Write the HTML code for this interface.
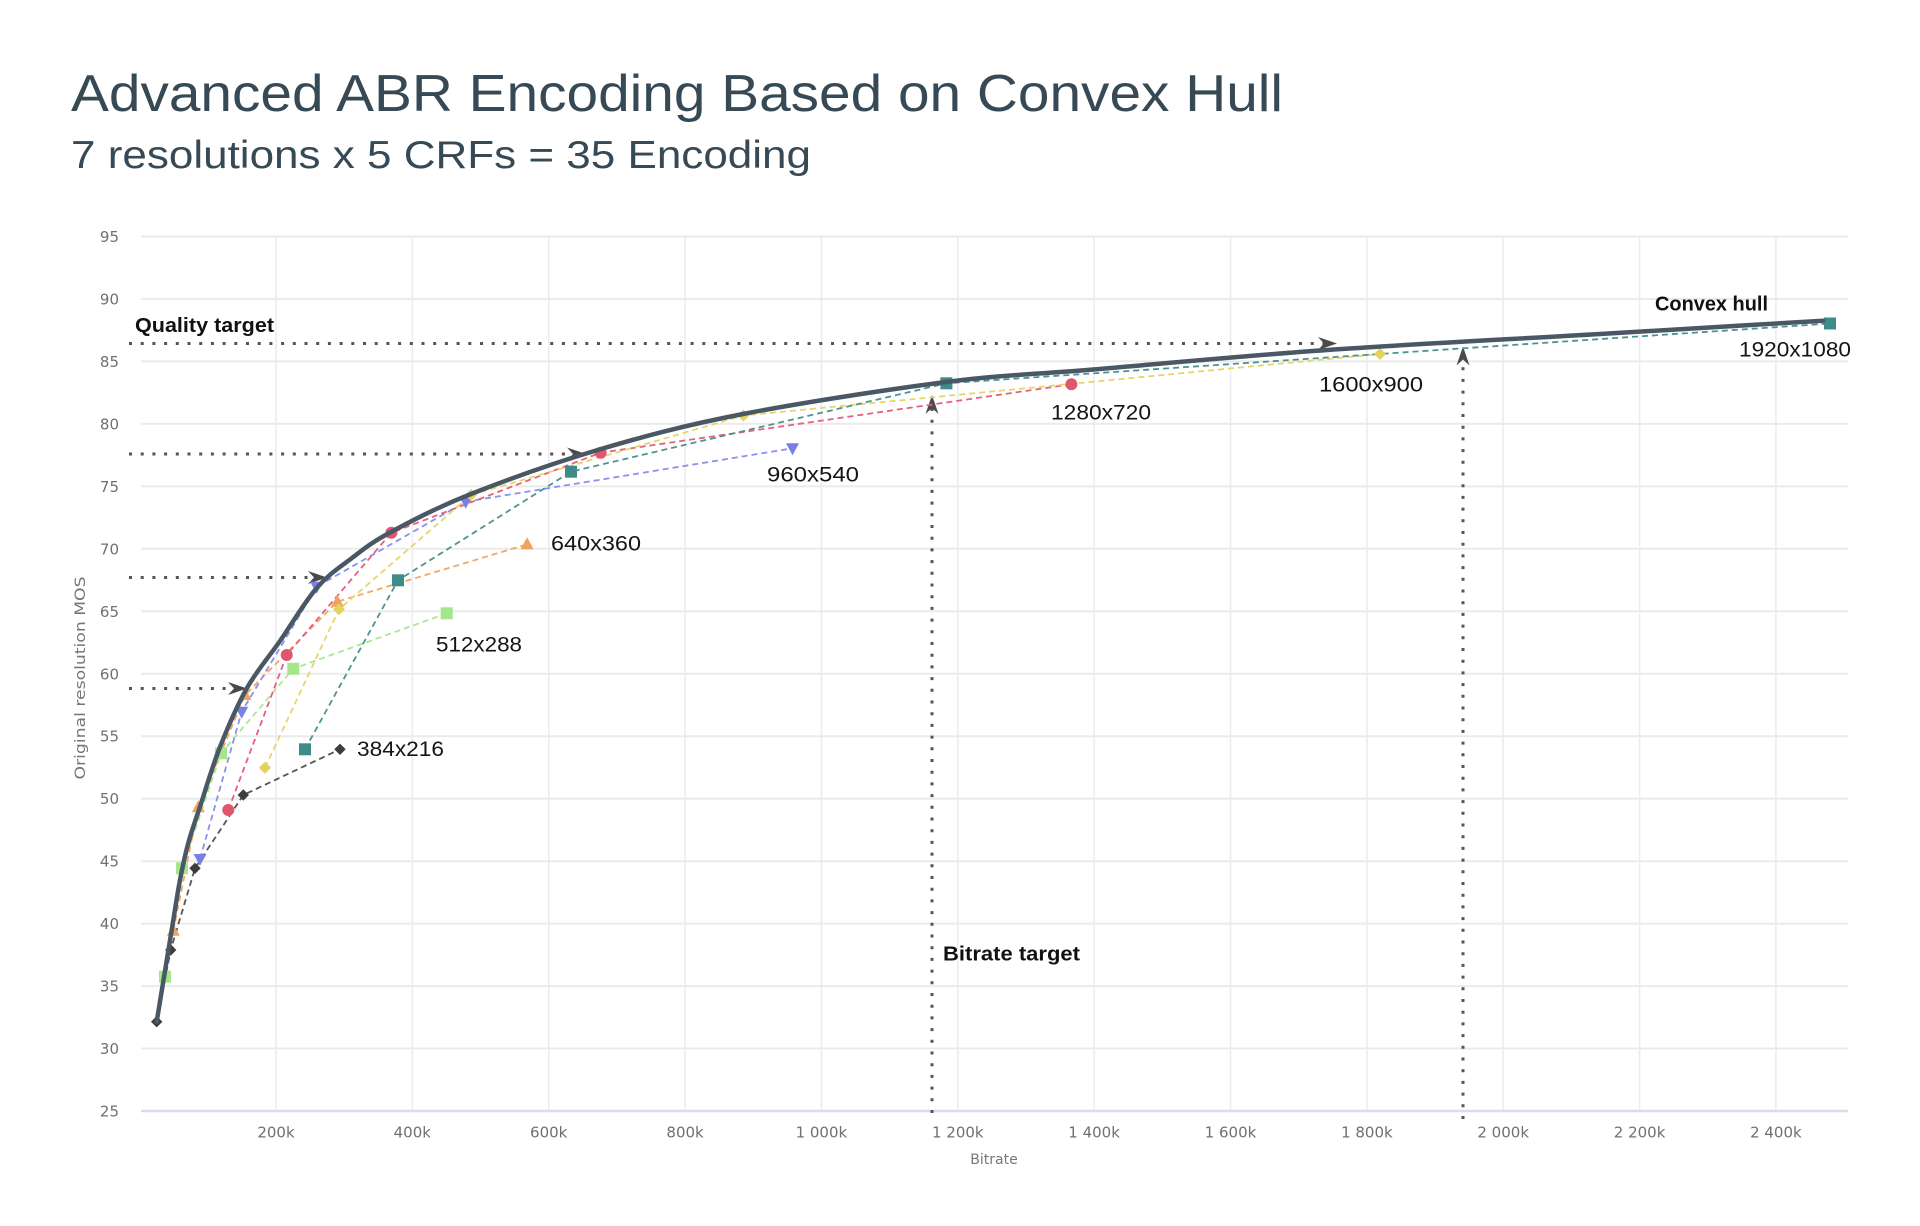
<!DOCTYPE html>
<html>
<head>
<meta charset="utf-8">
<style>
html,body{margin:0;padding:0;background:#fff;}
svg{display:block;}
.tick{font-family:"DejaVu Sans","Liberation Sans",sans-serif;font-size:15px;fill:#707070;}
.ax{font-family:"DejaVu Sans","Liberation Sans",sans-serif;font-size:14px;fill:#777;}
.lbl{font-family:"Liberation Sans",sans-serif;font-size:21px;fill:#151515;}
.bold{font-family:"Liberation Sans",sans-serif;font-size:20px;font-weight:bold;fill:#111;}
</style>
</head>
<body>
<svg width="1920" height="1226" viewBox="0 0 1920 1226" xmlns="http://www.w3.org/2000/svg">
<rect width="1920" height="1226" fill="#fff"/>

<!-- Titles -->
<text x="71" y="111" font-family="Liberation Sans, sans-serif" font-size="52" fill="#364955" textLength="1212" lengthAdjust="spacingAndGlyphs">Advanced ABR Encoding Based on Convex Hull</text>
<text x="71" y="168" font-family="Liberation Sans, sans-serif" font-size="39" fill="#364955" textLength="740" lengthAdjust="spacingAndGlyphs">7 resolutions x 5 CRFs = 35 Encoding</text>

<!-- Vertical gridlines -->
<g stroke="#ececf0" stroke-width="1.5">
<line x1="276" y1="236.5" x2="276" y2="1111"/>
<line x1="412.3" y1="236.5" x2="412.3" y2="1111"/>
<line x1="548.7" y1="236.5" x2="548.7" y2="1111"/>
<line x1="685.1" y1="236.5" x2="685.1" y2="1111"/>
<line x1="821.4" y1="236.5" x2="821.4" y2="1111"/>
<line x1="957.8" y1="236.5" x2="957.8" y2="1111"/>
<line x1="1094.1" y1="236.5" x2="1094.1" y2="1111"/>
<line x1="1230.5" y1="236.5" x2="1230.5" y2="1111"/>
<line x1="1366.9" y1="236.5" x2="1366.9" y2="1111"/>
<line x1="1503.2" y1="236.5" x2="1503.2" y2="1111"/>
<line x1="1639.6" y1="236.5" x2="1639.6" y2="1111"/>
<line x1="1775.9" y1="236.5" x2="1775.9" y2="1111"/>
</g>
<!-- Horizontal gridlines -->
<g stroke="#ebebeb" stroke-width="2">
<line x1="141" y1="236.5" x2="1848" y2="236.5"/>
<line x1="141" y1="299" x2="1848" y2="299"/>
<line x1="141" y1="361.4" x2="1848" y2="361.4"/>
<line x1="141" y1="423.9" x2="1848" y2="423.9"/>
<line x1="141" y1="486.4" x2="1848" y2="486.4"/>
<line x1="141" y1="548.8" x2="1848" y2="548.8"/>
<line x1="141" y1="611.3" x2="1848" y2="611.3"/>
<line x1="141" y1="673.8" x2="1848" y2="673.8"/>
<line x1="141" y1="736.2" x2="1848" y2="736.2"/>
<line x1="141" y1="798.7" x2="1848" y2="798.7"/>
<line x1="141" y1="861.2" x2="1848" y2="861.2"/>
<line x1="141" y1="923.6" x2="1848" y2="923.6"/>
<line x1="141" y1="986.1" x2="1848" y2="986.1"/>
<line x1="141" y1="1048.5" x2="1848" y2="1048.5"/>
</g>
<line x1="141" y1="1111" x2="1848" y2="1111" stroke="#d6ddef" stroke-width="2.5"/>

<!-- Y tick labels -->
<g class="tick" text-anchor="end">
<text x="119" y="242">95</text>
<text x="119" y="304.5">90</text>
<text x="119" y="367">85</text>
<text x="119" y="429.4">80</text>
<text x="119" y="491.9">75</text>
<text x="119" y="554.3">70</text>
<text x="119" y="616.8">65</text>
<text x="119" y="679.3">60</text>
<text x="119" y="741.7">55</text>
<text x="119" y="804.2">50</text>
<text x="119" y="866.7">45</text>
<text x="119" y="929.1">40</text>
<text x="119" y="991.6">35</text>
<text x="119" y="1054">30</text>
<text x="119" y="1116.5">25</text>
</g>
<!-- X tick labels -->
<g class="tick" text-anchor="middle">
<text x="276" y="1137.5">200k</text>
<text x="412.3" y="1137.5">400k</text>
<text x="548.7" y="1137.5">600k</text>
<text x="685.1" y="1137.5">800k</text>
<text x="821.4" y="1137.5">1 000k</text>
<text x="957.8" y="1137.5">1 200k</text>
<text x="1094.1" y="1137.5">1 400k</text>
<text x="1230.5" y="1137.5">1 600k</text>
<text x="1366.9" y="1137.5">1 800k</text>
<text x="1503.2" y="1137.5">2 000k</text>
<text x="1639.6" y="1137.5">2 200k</text>
<text x="1775.9" y="1137.5">2 400k</text>
</g>
<text class="ax" x="994" y="1164" text-anchor="middle">Bitrate</text>
<text class="ax" x="0" y="0" text-anchor="middle" transform="translate(85,678) rotate(-90)" textLength="203" lengthAdjust="spacingAndGlyphs">Original resolution MOS</text>

<!-- Target dotted lines -->
<g stroke="#555" stroke-width="3" stroke-dasharray="3 8.7" fill="none">
<line x1="129" y1="343.5" x2="1326" y2="343.5"/>
<line x1="129" y1="454" x2="575" y2="454"/>
<line x1="129" y1="577.5" x2="316" y2="577.5"/>
<line x1="129" y1="688.5" x2="236" y2="688.5"/>
<line x1="932" y1="1113" x2="932" y2="407"/>
<line x1="1463" y1="1119" x2="1463" y2="358"/>
</g>
<g fill="#4a4a4a">
<path d="M1337,343.5 L1318,337 L1324,343.5 L1318,350 Z"/>
<path d="M586,454 L567,447.5 L573,454 L567,460.5 Z"/>
<path d="M327,577.5 L308,571 L314,577.5 L308,584 Z"/>
<path d="M247,688.5 L228,682 L234,688.5 L228,695 Z"/>
<path d="M932,395 L925.5,414 L932,408 L938.5,414 Z"/>
<path d="M1463,346.5 L1456.5,365.5 L1463,359.5 L1469.5,365.5 Z"/>
</g>

<!-- Series dashed lines -->
<g fill="none" stroke-width="1.8" stroke-dasharray="6 4">
<polyline stroke="#555" points="156.7,1021.7 170.7,950 195,868.3 243.3,795 340,749.3"/>
<polyline stroke="#a8e890" points="165,976.7 182,868.3 221,753.3 293.3,668.7 446.7,613.3"/>
<polyline stroke="#f2a865" points="173.3,930.7 198.3,807.3 245,695 337.3,601.7 527.1,544.3"/>
<polyline stroke="#8c90ee" points="200,859 241.7,711.7 316.7,586.7 465.7,501.7 792.5,448.3"/>
<polyline stroke="#e8607a" points="228.3,810 286.7,655 391.4,532.7 600.7,452.7 1071.4,384.3"/>
<polyline stroke="#e6d66a" points="265,767.7 339,609.3 471,495 743.4,415.5 1380,354"/>
<polyline stroke="#4d9490" points="305,749.3 398,580.3 571,471.7 946.4,383.3 1830,323.5"/>
</g>

<!-- Markers -->
<g fill="#a3e68b">
<rect x="159" y="970.7" width="12" height="12"/>
<rect x="176" y="862.3" width="12" height="12"/>
<rect x="215" y="747.3" width="12" height="12"/>
<rect x="287.3" y="662.7" width="12" height="12"/>
<rect x="440.7" y="607.3" width="12" height="12"/>
</g>
<g fill="#3f8b88">
<rect x="299" y="743.3" width="12" height="12"/>
<rect x="392" y="574.3" width="12" height="12"/>
<rect x="565" y="465.7" width="12" height="12"/>
<rect x="940.4" y="377.3" width="12" height="12"/>
<rect x="1824" y="317.5" width="12" height="12"/>
</g>
<g fill="#f0a35e">
<polygon points="173.3,923.7 166.8,935.7 179.8,935.7"/>
<polygon points="198.3,800.3 191.8,812.3 204.8,812.3"/>
<polygon points="245,688 238.5,700 251.5,700"/>
<polygon points="337.3,594.7 330.8,606.7 343.8,606.7"/>
<polygon points="527.1,537.3 520.6,549.3 533.6,549.3"/>
</g>
<g fill="#7a7fe5">
<polygon points="193.5,854 206.5,854 200,866"/>
<polygon points="235.2,706.7 248.2,706.7 241.7,718.7"/>
<polygon points="310.2,581.7 323.2,581.7 316.7,593.7"/>
<polygon points="459.2,496.7 472.2,496.7 465.7,508.7"/>
<polygon points="786,443.3 799,443.3 792.5,455.3"/>
</g>
<g fill="#e0566f">
<circle cx="228.3" cy="810" r="6"/>
<circle cx="286.7" cy="655" r="6"/>
<circle cx="391.4" cy="532.7" r="6"/>
<circle cx="600.7" cy="452.7" r="6"/>
<circle cx="1071.4" cy="384.3" r="6"/>
</g>
<g fill="#e2d35a">
<polygon points="265,761.7 271,767.7 265,773.7 259,767.7"/>
<polygon points="339,603.3 345,609.3 339,615.3 333,609.3"/>
<polygon points="471,489 477,495 471,501 465,495"/>
<polygon points="743.4,409.5 749.4,415.5 743.4,421.5 737.4,415.5"/>
<polygon points="1380,348 1386,354 1380,360 1374,354"/>
</g>
<g fill="#3d3d3d">
<polygon points="156.7,1016 162.4,1021.7 156.7,1027.4 151,1021.7"/>
<polygon points="170.7,944.3 176.4,950 170.7,955.7 165,950"/>
<polygon points="195,862.6 200.7,868.3 195,874 189.3,868.3"/>
<polygon points="243.3,789.3 249,795 243.3,800.7 237.6,795"/>
<polygon points="340,743.6 345.7,749.3 340,755 334.3,749.3"/>
</g>

<!-- Convex hull (smooth) -->
<path fill="none" stroke="#4a5866" stroke-width="4.5" stroke-linejoin="round" stroke-linecap="round"
d="M156.7,1021.7 C161.7,991.13 167.82,953.62 171.7,930
C175.58,906.38 177.23,894.5 180,880
C182.77,865.5 184.97,855.22 188.3,843
C191.63,830.78 194.72,822.7 200,806.7
C205.28,790.7 212.17,766.78 220,747
C227.83,727.22 237,705.67 247,688
C257,670.33 268.38,657.67 280,641
C291.62,624.33 304.7,601.83 316.7,588
C328.7,574.17 339.62,567.33 352,558
C364.38,548.67 371.17,542.67 391,532
C410.83,521.33 436,507.83 471,494
C506,480.17 555.67,462.33 601,449
C646.33,435.67 685.5,425.17 743,414
C800.5,402.83 887.67,389.42 946,382
C1004.33,374.58 1029.5,374.83 1093,369.5
C1156.5,364.17 1242.5,355.92 1327,350
C1411.5,344.08 1517.33,338.88 1600,334
C1682.67,329.12 1748.67,325.13 1823,320.7"/>

<!-- Annotations -->
<text class="bold" x="135" y="332" textLength="139" lengthAdjust="spacingAndGlyphs">Quality target</text>
<text class="bold" x="943" y="960.5" textLength="137" lengthAdjust="spacingAndGlyphs">Bitrate target</text>
<text class="bold" x="1655" y="310.5" textLength="113" lengthAdjust="spacingAndGlyphs">Convex hull</text>

<text class="lbl" x="357" y="756" textLength="87" lengthAdjust="spacingAndGlyphs">384x216</text>
<text class="lbl" x="436" y="651.7" textLength="86" lengthAdjust="spacingAndGlyphs">512x288</text>
<text class="lbl" x="551" y="550.5" textLength="90" lengthAdjust="spacingAndGlyphs">640x360</text>
<text class="lbl" x="767" y="481.7" textLength="92" lengthAdjust="spacingAndGlyphs">960x540</text>
<text class="lbl" x="1051" y="419.5" textLength="100" lengthAdjust="spacingAndGlyphs">1280x720</text>
<text class="lbl" x="1319" y="391.7" textLength="104" lengthAdjust="spacingAndGlyphs">1600x900</text>
<text class="lbl" x="1739" y="356.7" textLength="112" lengthAdjust="spacingAndGlyphs">1920x1080</text>
</svg>
</body>
</html>
